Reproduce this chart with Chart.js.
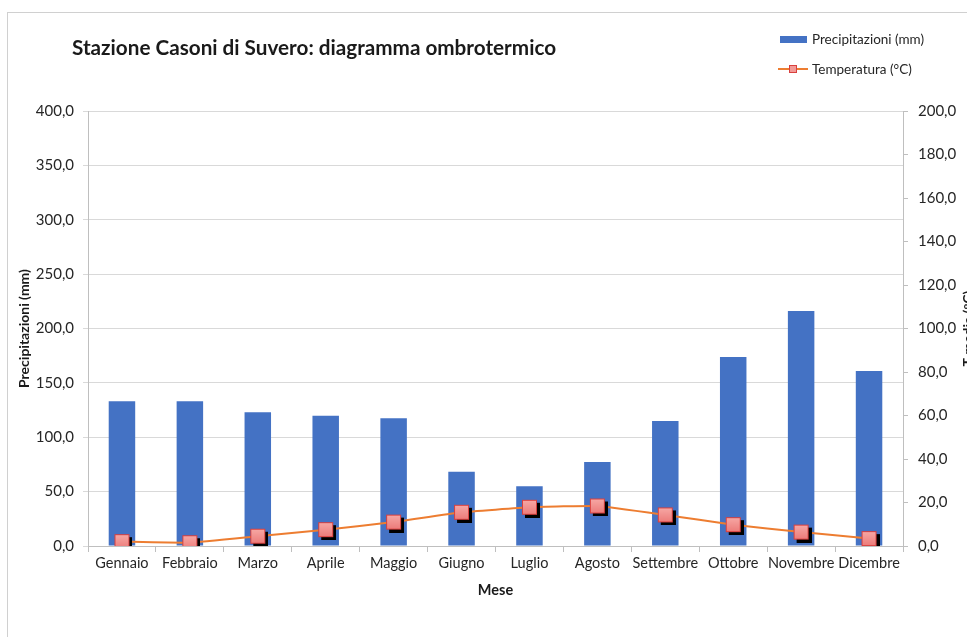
<!DOCTYPE html>
<html>
<head>
<meta charset="utf-8">
<script src="https://cdn.jsdelivr.net/npm/chart.js@4"></script>
<style>
  body { margin: 0; width: 967px; height: 637px; overflow: hidden; background: #fff; position: relative; font-family: Lato, "Open Sans", sans-serif; }
  #frame { position: absolute; left: 7px; top: 12px; width: 1000px; height: 700px; border: 1px solid #d0d0d0; }
  #grafico { position: absolute; left: 0; top: 0; }
  #titolo { position: absolute; left: 72px; top: 35px; font-weight: bold; font-size: 20.7px; color: #1a1a1a; white-space: nowrap; }
  .leg { position: absolute; left: 778px; font-size: 13.5px; color: #262626; white-space: nowrap; display: flex; align-items: center; }
  .leg .sym { width: 30px; height: 14px; position: relative; margin-right: 4px; }
</style>
</head>
<body>
<div id="frame"></div>
<canvas id="grafico" width="1000" height="637"></canvas>
<div id="titolo">Stazione Casoni di Suvero: diagramma ombrotermico</div>
<div id="legenda"></div>
<script>
const mesi = ["Gennaio", "Febbraio", "Marzo", "Aprile", "Maggio", "Giugno", "Luglio", "Agosto", "Settembre", "Ottobre", "Novembre", "Dicembre"];
const precipitazioni = [133.0, 133.0, 123.0, 119.8, 117.4, 68.3, 54.9, 77.2, 115.0, 173.8, 216.0, 161.0];
const temperatura = [2.0, 1.5, 4.5, 7.5, 11.0, 15.5, 17.8, 18.4, 14.3, 9.8, 6.4, 3.4];
const tickPrecipitazioni = [0, 50, 100, 150, 200, 250, 300, 350, 400];
const tickTemperatura = [0, 20, 40, 60, 80, 100, 120, 140, 160, 180, 200];

const BLU = "#4472c4";
const ARANCIO = "#ed7d31";
const font = "Lato, 'Open Sans', sans-serif";

function virgola(v) {
  return Number(v).toFixed(1).replace(".", ",");
}

// marker quadrato con ombra nera
function creaMarker(lato, ombra) {
  const c = document.createElement("canvas");
  const size = 2 * (lato / 2 + ombra);
  c.width = size;
  c.height = size;
  const g = c.getContext("2d");
  const o = size / 2 - lato / 2;
  g.fillStyle = "#000";
  g.fillRect(o + ombra, o + ombra, lato, lato);
  const grad = g.createLinearGradient(0, o, 0, o + lato);
  grad.addColorStop(0, "#f7a9a6");
  grad.addColorStop(1, "#ec7a78");
  g.fillStyle = grad;
  g.fillRect(o, o, lato, lato);
  g.strokeStyle = "#d9403e";
  g.lineWidth = 1;
  g.strokeRect(o + 0.5, o + 0.5, lato - 1, lato - 1);
  return c;
}

const marker = creaMarker(15, 3);

// titolo dell'asse destro, ruotato come in Excel (dal basso verso l'alto)
const titoloDestro = {
  id: "titoloDestro",
  afterDraw(chart) {
    const ctx = chart.ctx;
    const area = chart.chartArea;
    ctx.save();
    ctx.translate(968, (area.top + area.bottom) / 2);
    ctx.rotate(-Math.PI / 2);
    ctx.font = "bold 14px " + font;
    ctx.fillStyle = "#1a1a1a";
    ctx.textAlign = "center";
    ctx.textBaseline = "middle";
    ctx.fillText("T media (°C)", 0, 0);
    ctx.restore();
  }
};

const ctx = document.getElementById("grafico").getContext("2d");
const grafico = new Chart(ctx, {
  type: "bar",
  data: {
    labels: mesi,
    datasets: [
      {
        type: "line",
        label: "Temperatura (°C)",
        data: temperatura,
        yAxisID: "y1",
        borderColor: ARANCIO,
        borderWidth: 2,
        tension: 0.1,
        pointStyle: marker,
        pointRadius: 10,
        order: 0
      },
      {
        label: "Precipitazioni (mm)",
        data: precipitazioni,
        yAxisID: "y",
        backgroundColor: BLU,
        borderWidth: 0,
        barPercentage: 0.39,
        categoryPercentage: 1.0,
        order: 1
      }
    ]
  },
  options: {
    responsive: false,
    animation: false,
    layout: { padding: { top: 111, left: 0, right: 0, bottom: 31 } },
    plugins: {
      legend: { display: false },
      title: { display: false },
      tooltip: { enabled: false }
    },
    scales: {
      x: {
        offset: true,
        grid: { display: true, drawOnChartArea: false, offset: true, tickLength: 6, color: "#bfbfbf" },
        border: { color: "#bfbfbf" },
        ticks: { color: "#262626", font: { family: font, size: 14.5 }, padding: 3, maxRotation: 0, autoSkip: false },
        title: { display: true, text: "Mese", color: "#1a1a1a", font: { family: font, size: 14.5, weight: "bold" }, padding: { top: 0, bottom: 7 } },
        afterFit(s) { s.height = 60; }
      },
      y: {
        position: "left",
        min: 0,
        max: 400,
        afterBuildTicks(s) { s.ticks = tickPrecipitazioni.map(v => ({ value: v })); },
        grid: { color: "#d9d9d9", tickLength: 5 },
        border: { color: "#bfbfbf" },
        ticks: { color: "#262626", font: { family: font, size: 15 }, padding: 9, callback: virgola },
        title: { display: true, text: "Precipitazioni (mm)", color: "#1a1a1a", font: { family: font, size: 14, weight: "bold" }, padding: { top: 16, bottom: 0 } },
        afterFit(s) { s.width = 88; }
      },
      y1: {
        position: "right",
        min: 0,
        max: 200,
        afterBuildTicks(s) { s.ticks = tickTemperatura.map(v => ({ value: v })); },
        grid: { drawOnChartArea: false, color: "#bfbfbf", tickLength: 5 },
        border: { color: "#bfbfbf" },
        ticks: { color: "#262626", font: { family: font, size: 15 }, padding: 10, callback: virgola },
        afterFit(s) { s.width = 97; }
      }
    }
  },
  plugins: [titoloDestro]
});

// legenda in alto a destra
const legenda = document.getElementById("legenda");
const voci = [
  { testo: grafico.data.datasets[1].label, top: 31, tipo: "barra" },
  { testo: grafico.data.datasets[0].label, top: 61, tipo: "linea" }
];
voci.forEach(function (v) {
  const riga = document.createElement("div");
  riga.className = "leg";
  riga.style.top = v.top + "px";
  const sym = document.createElement("div");
  sym.className = "sym";
  if (v.tipo === "barra") {
    sym.innerHTML = '<div style="position:absolute;left:2px;top:4px;width:27px;height:7px;background:' + BLU + '"></div>';
  } else {
    sym.innerHTML = '<div style="position:absolute;left:0;top:6px;width:30px;height:2px;background:' + ARANCIO + '"></div>' +
      '<div style="position:absolute;left:11px;top:3px;width:8px;height:8px;background:#f29a97;border:1px solid #d9403e;box-sizing:border-box"></div>';
  }
  const txt = document.createElement("span");
  txt.textContent = v.testo;
  riga.appendChild(sym);
  riga.appendChild(txt);
  legenda.appendChild(riga);
});
</script>
</body>
</html>
